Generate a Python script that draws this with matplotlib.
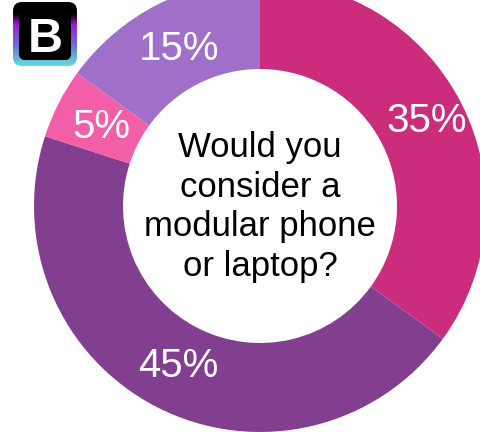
import matplotlib
matplotlib.use('Agg')
import matplotlib.pyplot as plt
import numpy as np
from matplotlib.colors import LinearSegmentedColormap
from matplotlib.patches import FancyBboxPatch

shares = [35, 45, 5, 15]
share_labels = ['35%', '45%', '5%', '15%']
colors = ['#CB2C7C', '#823F90', '#F25EA8', '#A06FC9']
question = 'Would you\nconsider a\nmodular phone\nor laptop?'

W, H = 480, 432
cx, cy, r, r_in = 260, 206, 226, 137

plt.rcParams['font.family'] = ['Liberation Sans', 'DejaVu Sans']

fig = plt.figure(figsize=(W / 100, H / 100), dpi=100)
ax = fig.add_axes([0, 0, 1, 1])

ax.pie(shares, colors=colors, startangle=90, counterclock=False,
       center=(cx, H - cy), radius=r, frame=True,
       wedgeprops=dict(width=r - r_in, linewidth=0))

label_pos = [(427, 121), (178, 366), (101, 127), (179, 49)]
for txt, (x, y) in zip(share_labels, label_pos):
    ax.text(x, H - y, txt, color='white', fontsize=29, ha='center', va='center')

ax.text(260, H - 207, question, color='black', fontsize=25, ha='center',
        va='center', linespacing=1.25)

# app badge: rounded tile with a vertical gradient behind a black square
badge_cmap = LinearSegmentedColormap.from_list(
    'badge', [(0, '#000000'), (0.17, '#000000'), (0.36, '#9A1FD8'),
              (0.68, '#6F6FD0'), (1, '#62DCDE')])
tile = FancyBboxPatch((13, H - 66), 64, 64, boxstyle='round,pad=0,rounding_size=9',
                      fc='none', ec='none')
ax.add_patch(tile)
grad = ax.imshow(np.linspace(1, 0, 64).reshape(-1, 1), cmap=badge_cmap, aspect='auto',
                 extent=(13, 77, H - 66, H - 2), origin='lower', zorder=3)
grad.set_clip_path(tile)
ax.add_patch(FancyBboxPatch((19, H - 60), 52, 54, boxstyle='round,pad=0,rounding_size=6',
                            fc='black', ec='none', zorder=4))
ax.text(45.5, H - 52, 'B', color='white', fontsize=35, fontweight='bold',
        ha='center', va='baseline', zorder=5)

ax.set_xlim(0, W)
ax.set_ylim(0, H)
ax.set_aspect('equal')
ax.axis('off')

fig.savefig('out.png', dpi=100)
